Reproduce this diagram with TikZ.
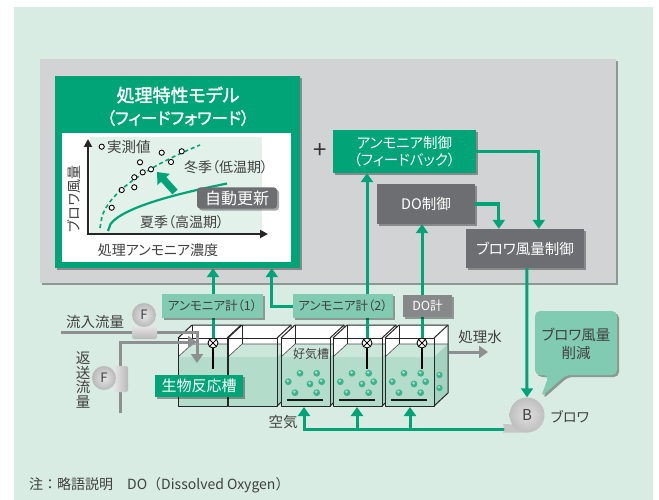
\documentclass[tikz,border=0pt]{standalone}
\usepackage{fontspec}
\setmainfont{Noto Sans CJK JP}[RawFeature=+palt]
\newfontfamily\jpbold[FakeBold=1.6,RawFeature=+palt]{Noto Sans CJK JP}
\newfontfamily\jpfull{Noto Sans CJK JP}
\usetikzlibrary{arrows.meta,shadows,calc}

\definecolor{bgmint}{HTML}{D8ECE3}
\definecolor{panelgray}{HTML}{D1D3D4}
\definecolor{tgreen}{HTML}{00A477}
\definecolor{mint}{HTML}{80CBB1}
\definecolor{dgray}{HTML}{6D6E71}
\definecolor{mgray}{HTML}{87888A}
\definecolor{plotbg}{HTML}{E2F1EA}
\definecolor{txt}{HTML}{404041}
\definecolor{pipe}{HTML}{8E8F91}
\definecolor{waterfront}{HTML}{B4DCCA}
\definecolor{watertop}{HTML}{CBE7DA}
\definecolor{waterside}{HTML}{A3D2BE}
\definecolor{bubble}{HTML}{3DB48E}

\tikzset{
  shade2/.style={drop shadow={shadow xshift=2pt, shadow yshift=-2pt, opacity=0.35, fill=black}},
  fs/.style={font=\fontsize{#1pt}{\dimexpr #1pt*115/100\relax}\selectfont},
  lab/.style={text=txt, inner sep=0pt, fs=14.5},
  gbox/.style={fill=tgreen, text=white, inner sep=0pt, shade2},
  graybox/.style={fill=dgray, text=white, inner sep=0pt, shade2},
  meter/.style={fill=mint, text=txt, inner sep=0pt, fs=12.5, minimum height=24pt, shade2},
  gline/.style={draw=tgreen, line width=3pt},
  garrow/.style={gline, -{Triangle[width=12pt,length=9pt]}},
  parrow/.style={draw=pipe, line width=3pt, -{Triangle[width=12pt,length=9pt]}},
  tankedge/.style={draw=black!85, line width=1pt, line join=round},
  sensor/.style={circle, draw=black, line width=0.9pt, fill=white, minimum size=10pt, inner sep=0pt,
    path picture={\draw[line width=0.8pt] ([shift={(-4pt,-4pt)}]path picture bounding box.center) -- ([shift={(4pt,4pt)}]path picture bounding box.center)
      ([shift={(-4pt,4pt)}]path picture bounding box.center) -- ([shift={(4pt,-4pt)}]path picture bounding box.center);}},
  fmeter/.style={circle, minimum size=24pt, inner sep=0pt, inner color=gray!20, outer color=gray!55, text=txt, fs=13},
  datapt/.style={draw=black, line width=0.9pt, fill=white}
}

\begin{document}
\begin{tikzpicture}[x=1pt, y=-1pt]
\useasboundingbox (0,0) rectangle (659,500);
\fill[bgmint] (14,7) rectangle (653,500);

% control panel
\node[fill=panelgray, minimum width=576pt, minimum height=224pt, inner sep=0pt, shade2] (panel) at (328,171) {};

% feed-forward model box
\node[gbox, minimum width=245pt, minimum height=192pt] (model) at (177.5,172) {};
\fill[white] (62,133) rectangle (291,262);
\fill[plotbg] (90,137) rectangle (262,233);
\node[text=white, inner sep=0pt, font=\jpbold\fontsize{18pt}{20pt}\selectfont] (title1) at (178,95) {処理特性モデル};
\node[text=white, inner sep=0pt, font=\jpbold\fontsize{16.5pt}{18pt}\selectfont] (title2) at (178,118) {（フィードフォワード）};

% chart axes
\draw[black!85, line width=1.8pt, -{Triangle[width=8pt,length=8pt]}] (88,234) -- (88,139);
\draw[black!85, line width=1.8pt, -{Triangle[width=8pt,length=8pt]}] (87,234) -- (268,234);
\draw[tgreen, line width=1.6pt, dash pattern=on 4pt off 3pt] plot[domain=0:100, samples=50] ({100+\x},{228-8.3*sqrt(\x)});
\draw[tgreen, line width=2.2pt] plot[domain=0:119, samples=50] ({108+\x},{231-4.35*sqrt(\x)});
\foreach \p in {(111.7,207.7),(121.7,190),(134.3,187.3),(134.3,177.3),(140,162.3),(142.7,172.3),(151,169.3),(161.7,152.7),(171,162),(181.7,151.3)}
  \draw[datapt] \p circle[radius=2.6pt];
\draw[datapt] (101.7,146.7) circle[radius=2.6pt];
\node[lab, anchor=west] (measured) at (107,147) {実測値};
\node[lab, fs=14] (winter) at (226,167) {冬季（低温期）};
\node[lab, fs=14] (summer) at (182,222) {夏季（高温期）};
\node[lab, fs=14, rotate=90] (yaxis) at (74,199) {ブロワ風量};
\node[lab, fs=14] (xaxis) at (158,250) {処理アンモニア濃度};
\draw[tgreen, line width=7pt, -{Triangle[width=16pt,length=10pt]}] (175,192) -- (157,172);
\node[graybox, minimum width=80pt, minimum height=21pt, rounded corners=3pt, fs=16] (update) at (237,198) {自動更新};

% plus sign and controllers
\node[text=black!80, inner sep=0pt, fs=24] (plus) at (320,151) {+};
\node[gbox, minimum width=143pt, minimum height=43pt, align=center, fs=14.5] (actl) at (404.5,151.5) {アンモニア制御\\（フィードバック）};
\node[graybox, minimum width=98pt, minimum height=40pt, fs=14.5] (doctl) at (426,204) {DO制御};
\node[graybox, minimum width=118pt, minimum height=39pt, fs=14.5] (bctl) at (525,248.5) {ブロワ風量制御};

% reaction tanks
\foreach \x [count=\i] in {178,228,281,333,385} {
  \fill[white] (\x,338) -- (\x+14,325) -- (\x+63,325) -- (\x+63,393) -- (\x+49,406) -- (\x,406) -- cycle;
  \fill[watertop] (\x,357) -- (\x+14,344) -- (\x+63,344) -- (\x+49,357) -- cycle;
  \fill[waterside] (\x+49,357) -- (\x+63,344) -- (\x+63,393) -- (\x+49,406) -- cycle;
  \fill[waterfront] (\x,357) rectangle (\x+49,406);
  \draw[black!70, line width=0.6pt] (\x,357) -- (\x+14,344) -- (\x+63,344);
  \draw[tankedge] (\x+14,325) -- (\x+14,344);
  \draw[tankedge] (\x,338) -- (\x+14,325) -- (\x+63,325) -- (\x+63,393) -- (\x+49,406);
  \draw[tankedge] (\x+49,338) -- (\x+63,325);
  \draw[tankedge] (\x,338) rectangle (\x+49,406);
}
% aeration bubbles and diffusers
\foreach \x in {281,333,385} {
  \foreach \dx/\dy in {7.3/381.7,19/373.3,35.7/373.3,29/384,40.7/381.7,14/392.7,35.7/392.7} {
    \fill[bubble] (\x+\dx,\dy) circle[radius=3.4pt];
    \fill[white, opacity=0.55] (\x+\dx-0.6,\dy-0.9) circle[radius=1.5pt];
  }
  \draw[black!90, line width=2.6pt] (\x+6,400) -- (\x+42,400);
}
\foreach \dy in {375,388} {
  \fill[bubble] (439.5,\dy) circle[radius=3.2pt];
  \fill[white, opacity=0.55] (438.9,\dy-0.9) circle[radius=1.4pt];
}
\node[lab, fs=12] (aerobic) at (311,354) {好気槽};

% influent and return sludge pipes
\coordinate (inflow) at (61,332);
\coordinate (rsbot) at (120,413);
\coordinate (tank1in) at (197,363);
\coordinate (tank1rs) at (197,342);
\draw[parrow] (inflow) -| (tank1in);
\draw[parrow] (rsbot) |- (tank1rs);
\shade[top color=gray!20, bottom color=gray!55, rounded corners=2pt] (132,326) rectangle (157,339);
\node[fmeter] (fin) at (144,315) {F};
\shade[left color=gray!20, right color=gray!55, rounded corners=2pt] (114,366) rectangle (128,392);
\node[fmeter] (frs) at (104,378) {F};
\node[lab] (inlab) at (95,322) {流入流量};
\node[lab, align=center, font=\fontsize{14.5pt}{14.5pt}\selectfont] (rslab) at (83,380) {返\\送\\流\\量};

% treated water
\coordinate (tank5out) at (449,352);
\coordinate (effluent) at (488,352);
\draw[parrow] (tank5out) -- (effluent);
\node[lab] (eflab) at (480,337) {処理水};

% sensors in the tanks
\node[sensor] (s1) at (213,343) {};
\node[sensor] (s2) at (367,343) {};
\node[sensor] (s3) at (422,343) {};
\foreach \s in {s1,s2,s3}
  \draw[black, line width=1.8pt] (\s.south) -- ++(0,21);

% signal lines
\draw[garrow] (s1.north) -- (s1.north |- model.south);
\draw[garrow] (s2.north) -- (s2.north |- actl.south);
\draw[garrow] (s3.north) -- (s3.north |- doctl.south);
\draw[garrow] (actl.east) -| ($(bctl.north west)+(73,0)$);
\draw[garrow] (doctl.east) -| ($(bctl.north west)+(33,0)$);

% meters
\node[meter, minimum width=101pt] (am1) at (212.5,306) {アンモニア計（1）};
\node[meter, minimum width=100pt] (am2) at (343,306) {アンモニア計（2）};
\node[meter, minimum width=49pt, fill=mgray, text=white, minimum height=22pt] (dom) at (427.5,306) {DO計};
\draw[garrow] (am2.west) -| ($(model.south west)+(217,0)$);

% blower and air supply
\coordinate (outlet) at (505,429);
\coordinate (t3b) at (304,407);
\coordinate (t4b) at (357,407);
\coordinate (t5b) at (410,407);
\draw[garrow] (outlet) -| (t3b);
\draw[garrow] (t4b |- outlet) -- (t4b);
\draw[garrow] (t5b |- outlet) -- (t5b);
\fill[gray!45] (503,424) -- (527,425) -- (527,432.5) -- (503,432.5) .. controls (505,430) .. (503,424) -- cycle;
\node[circle, minimum size=35pt, inner sep=0pt, inner color=gray!25, outer color=gray!50, text=txt, fs=15] (blower) at (527,415) {B};
\draw[garrow] ($(bctl.south west)+(61,0)$) -- (blower.north);
\node[lab, fs=14] (blab) at (570,417) {ブロワ};
\node[lab] (air) at (283,422) {空気};

% biological reactor label
\node[gbox, minimum width=88pt, minimum height=22pt, fs=15] (bioreac) at (199,386) {生物反応槽};

% callout
\fill[mint, rounded corners=5pt, shade2] (535,311) -- (617,311) -- (617,375) -- (566,375) -- (541,397) -- (549,375) -- (535,375) -- cycle;
\node[lab, align=center, font=\fontsize{14.5pt}{18pt}\selectfont] (callout) at (576,344) {ブロワ風量\\削減};

% footnote
\node[lab, anchor=west, text=black!75, font=\jpfull\fontsize{14pt}{16pt}\selectfont] (note) at (29,485) {注：略語説明　DO（Dissolved Oxygen）};
\end{tikzpicture}
\end{document}
